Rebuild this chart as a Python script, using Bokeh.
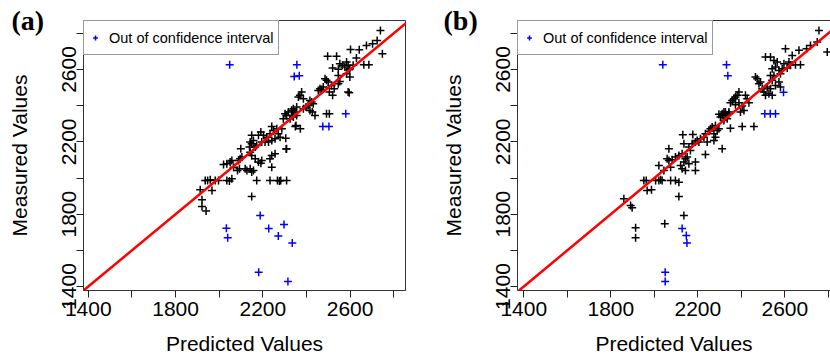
from bokeh.plotting import figure
from bokeh.layouts import row
from bokeh.models import Slope, Title, LinearAxis, FixedTicker, Range1d
from bokeh.embed import file_html
from bokeh.resources import INLINE

FONT = "Liberation Sans"

# ---------------- data ----------------
axis_ticks = [1400, 1600, 1800, 2000, 2200, 2400, 2600, 2800]
tick_labels = ["1400", "", "1800", "", "2200", "", "2600", ""]
x_title = "Predicted Values"
y_title = "Measured Values"
legend_text = "Out of confidence interval"
panel_tags = ["(a)", "(b)"]

# panel (a): points inside the confidence interval
a_pred = [2355, 2332, 2317, 2302, 2309, 2340, 2325, 2294, 2352, 2305, 2241, 2249, 2264, 2233,
          2287, 2271, 2279, 2256, 2241, 2226, 2210, 2195, 2218, 2203, 2191, 2180, 2149, 2142,
          2149, 2157, 2139, 2165, 2172, 2099, 2096, 2104, 2089, 2058, 2050, 2035, 2020, 2066,
          2084, 2093, 2142, 2149, 2165, 2180, 2191, 2195, 2241, 2256, 2233, 2241, 2309, 2119,
          2127, 2142, 2149, 2157, 1936, 1947, 1959, 1982, 1997, 2035, 2047, 2058, 2172, 2233,
          2267, 2276, 2282, 2309, 1913, 1967, 2149, 1921, 1921, 1940,
          2739, 2748, 2724, 2703, 2675, 2642, 2602, 2686, 2663, 2629, 2614, 2591, 2599, 2584,
          2538, 2497, 2553, 2565, 2576, 2546, 2520, 2546, 2584, 2599, 2596, 2485, 2492, 2477,
          2469, 2462, 2454, 2500, 2515, 2505, 2520, 2527, 2591, 2596, 2546, 2553, 2378, 2370,
          2363, 2386, 2416, 2424, 2431, 2408, 2398, 2386, 2416, 2427, 2439, 2340, 2332, 2348,
          2355, 2337, 2492, 2505, 2349, 2372, 2307]
a_meas = [2392, 2374, 2365, 2355, 2346, 2337, 2328, 2328, 2291, 2220, 2285, 2263, 2272, 2245,
          2272, 2245, 2226, 2217, 2208, 2199, 2199, 2199, 2226, 2236, 2254, 2236, 2236, 2199,
          2189, 2208, 2171, 2171, 2180, 2162, 2106, 2116, 2097, 2097, 2088, 2079, 2075, 2060,
          2042, 2051, 2143, 2125, 2106, 2088, 2082, 2097, 2125, 2134, 2106, 2060, 2162, 2051,
          2042, 2051, 2033, 2042, 1986, 1986, 1990, 1986, 1986, 1986, 1983, 1996, 1986, 1986,
          1986, 1983, 1986, 1986, 1935, 1931, 1898, 1880, 1843, 1818,
          2816, 2687, 2761, 2743, 2733, 2709, 2711, 2626, 2626, 2663, 2623, 2623, 2604, 2641,
          2673, 2673, 2632, 2623, 2614, 2601, 2608, 2567, 2577, 2558, 2599, 2549, 2540, 2503,
          2490, 2494, 2484, 2531, 2512, 2475, 2457, 2494, 2475, 2472, 2521, 2534, 2475, 2457,
          2448, 2438, 2429, 2420, 2411, 2401, 2392, 2383, 2374, 2365, 2346, 2383, 2374, 2365,
          2346, 2346, 2355, 2355, 2285, 2272, 2161]
# panel (a): points out of the confidence interval
a_out_pred = [2048, 2356, 2344, 2367, 2580, 2475, 2503, 2188, 2033, 2039, 2227, 2297, 2271, 2335, 2181, 2315]
a_out_meas = [2627, 2627, 2561, 2565, 2355, 2285, 2285, 1793, 1722, 1669, 1721, 1743, 1680, 1640, 1479, 1428]

# panel (b): points inside the confidence interval
b_pred = [2327, 2312, 2297, 2343, 2304, 2335, 2320, 2281, 2266, 2258, 2297, 2251, 2289, 2274,
          2235, 2228, 2212, 2205, 2189, 2197, 2174, 2243, 2274, 2177, 2131, 2136, 2159, 2166,
          2235, 2312, 2281, 2067, 2059, 2067, 2082, 2097, 2113, 2128, 2143, 2151, 2136, 2159,
          2121, 2128, 2143, 2189, 2189, 2021, 2075, 2044, 1952, 1963, 2021, 2029, 2036, 2075,
          2097, 2113, 2006, 1967, 1987, 2113, 1860, 1891, 1898, 1914, 1914, 2048, 2136,
          2757, 2795, 2749, 2718, 2700, 2665, 2603, 2634, 2672, 2649, 2626, 2619, 2611, 2596,
          2588, 2511, 2534, 2550, 2565, 2557, 2542, 2573, 2580, 2550, 2534, 2573, 2580, 2557,
          2542, 2465, 2473, 2488, 2481, 2496, 2519, 2534, 2542, 2527, 2511, 2504, 2389, 2381,
          2373, 2366, 2358, 2350, 2373, 2389, 2404, 2412, 2396, 2427, 2419, 2435, 2320, 2327,
          2312, 2343, 2335, 2404, 2458, 2350]
b_meas = [2365, 2355, 2352, 2355, 2337, 2328, 2318, 2291, 2282, 2272, 2272, 2259, 2263, 2245,
          2245, 2226, 2217, 2199, 2199, 2208, 2189, 2199, 2208, 2241, 2239, 2189, 2171, 2152,
          2130, 2162, 2226, 2162, 2106, 2097, 2101, 2116, 2125, 2134, 2106, 2116, 2088, 2079,
          2069, 2051, 2042, 2088, 2042, 2069, 2060, 2042, 1986, 1986, 1986, 1990, 1986, 1986,
          1986, 1977, 1986, 1931, 1935, 1898, 1885, 1848, 1835, 1725, 1669, 1747, 1793,
          2816, 2697, 2752, 2733, 2715, 2706, 2715, 2678, 2626, 2626, 2623, 2641, 2608, 2632,
          2604, 2669, 2669, 2650, 2641, 2614, 2604, 2595, 2577, 2567, 2567, 2531, 2503, 2512,
          2540, 2558, 2549, 2531, 2521, 2494, 2503, 2494, 2457, 2466, 2457, 2475, 2475, 2457,
          2448, 2438, 2429, 2416, 2405, 2416, 2398, 2374, 2365, 2438, 2457, 2416, 2365, 2355,
          2346, 2365, 2346, 2285, 2285, 2275]
# panel (b): points out of the confidence interval
b_out_pred = [2039, 2332, 2338, 2594, 2508, 2533, 2557, 2128, 2147, 2150, 2050, 2050]
b_out_meas = [2627, 2627, 2565, 2474, 2355, 2355, 2355, 1721, 1682, 1640, 1479, 1428]


def style_axis(ax):
    ax.ticker = FixedTicker(ticks=axis_ticks)
    ax.major_label_overrides = {t: lab for t, lab in zip(axis_ticks, tick_labels)}
    ax.minor_tick_line_color = None
    ax.major_tick_in = 0
    ax.major_tick_out = 7
    ax.major_tick_line_color = "#222222"
    ax.axis_line_color = "#333333"
    ax.major_label_text_font = FONT
    ax.major_label_text_font_size = "21px"
    ax.major_label_text_color = "black"
    ax.axis_label_text_font = FONT
    ax.axis_label_text_font_size = "21px"
    ax.axis_label_text_font_style = "normal"
    ax.axis_label_text_color = "black"


def make_panel(tag, xin, yin, xout, yout, xrange, yrange, left, right, open_right, tag_offset):
    p = figure(width=415, height=361, output_backend="svg", toolbar_location=None,
               x_range=Range1d(*xrange), y_range=Range1d(*yrange),
               min_border_left=left, min_border_right=right,
               min_border_top=20, min_border_bottom=71,
               x_axis_label=x_title, y_axis_label=y_title)
    p.grid.visible = False
    p.background_fill_color = "white"
    p.border_fill_color = "white"
    style_axis(p.xaxis[0])
    style_axis(p.yaxis[0])
    p.xaxis[0].major_label_standoff = 4
    p.xaxis[0].axis_label_standoff = 13
    p.yaxis[0].major_label_orientation = "vertical"
    p.yaxis[0].major_label_standoff = 0
    p.yaxis[0].axis_label_standoff = 29
    if open_right:
        p.outline_line_color = None
        top = LinearAxis(ticker=FixedTicker(ticks=[]), axis_line_color="#333333",
                         major_tick_line_color=None, minor_tick_line_color=None,
                         major_tick_out=0, major_tick_in=0, major_label_standoff=0,
                         major_label_text_font_size="0px")
        p.add_layout(top, "above")
    else:
        p.outline_line_color = "#333333"
        p.outline_line_width = 1

    p.scatter(xin, yin, marker="cross", size=8, line_width=1.5, color="black")
    p.scatter(xout, yout, marker="cross", size=8, line_width=1.5, color="#0000ff",
              legend_label=legend_text)
    p.add_layout(Slope(gradient=1, y_intercept=0, line_color="#ff0000", line_width=2.5))

    lg = p.legend[0]
    lg.location = "top_left"
    lg.margin = 0
    lg.padding = 5
    lg.spacing = 0
    lg.glyph_width = 12
    lg.glyph_height = 23
    lg.label_height = 23
    lg.label_standoff = 8
    lg.border_line_color = "#333333"
    lg.border_line_width = 1
    lg.background_fill_alpha = 1
    lg.label_text_font = FONT
    lg.label_text_font_size = "14.5px"
    lg.label_text_color = "black"

    t = Title(text=tag, align="left", offset=tag_offset, standoff=-30,
              vertical_align="bottom", text_font="Liberation Serif",
              text_font_style="bold", text_font_size="28px", text_color="black")
    p.add_layout(t, "above")
    return p


pa = make_panel(panel_tags[0], a_pred, a_meas, a_out_pred, a_out_meas,
                (1378, 2854), (1378, 2871), 83, 10, False, -72)
pb = make_panel(panel_tags[1], b_pred, b_meas, b_out_pred, b_out_meas,
                (1371, 2810), (1378, 2871), 102, 0, True, -74)

layout = row(pa, pb)
open("out.html", "w").write(file_html(layout, INLINE))
